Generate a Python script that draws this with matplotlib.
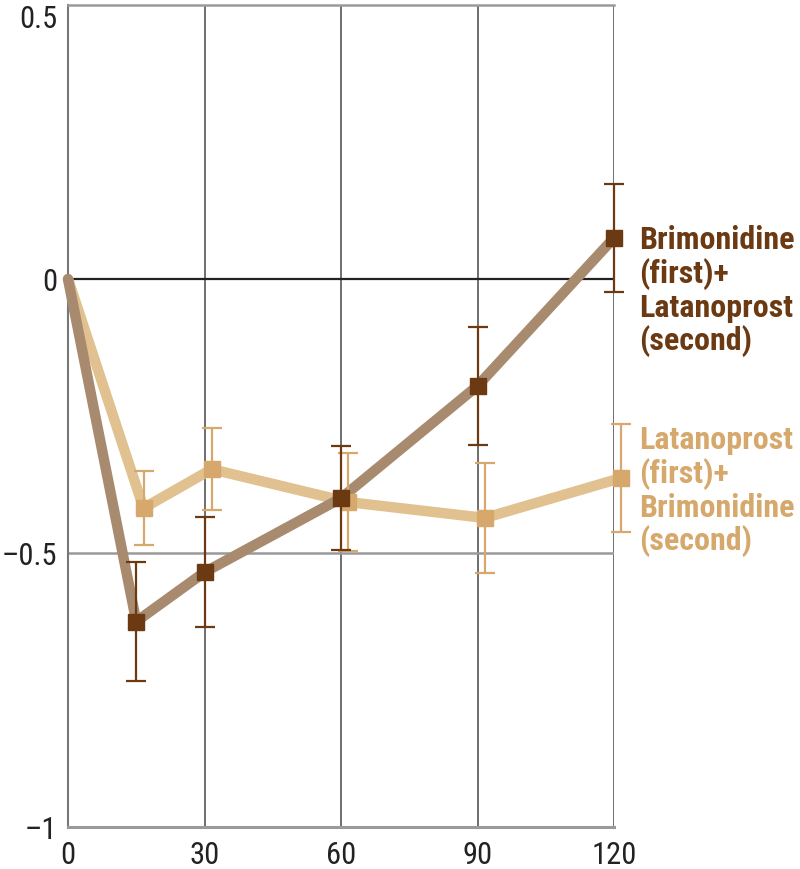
import matplotlib
matplotlib.use("Agg")
import matplotlib.pyplot as plt
import numpy as np

# ---- data ----
times = [0, 15, 30, 60, 90, 120]
brim_first = [0.0, -0.625, -0.535, -0.40, -0.195, 0.075]
brim_first_err = [0.0, 0.109, 0.10, 0.095, 0.108, 0.098]
lat_first = [0.0, -0.418, -0.347, -0.407, -0.436, -0.363]
lat_first_err = [0.0, 0.068, 0.075, 0.09, 0.10, 0.098]
label_brim = "Brimonidine\n(first)+\nLatanoprost\n(second)"
label_lat = "Latanoprost\n(first)+\nBrimonidine\n(second)"
xticks = [0, 30, 60, 90, 120]
yticks = [-1, -0.5, 0, 0.5]
ytick_labels = ["\u20131", "\u20130.5", "0", "0.5"]

# ---- style ----
dark_line = "#a88b6f"
dark_mark = "#6b3a12"
light_line = "#e0c18f"
light_mark = "#d6a86c"
narrow = ["Roboto Condensed", "DejaVu Sans"]

fig = plt.figure(figsize=(8, 8.69), dpi=100)
ax = fig.add_axes([0.085, 0.0483, 0.6825, 0.9459])
ax.set_xlim(0, 120)
ax.set_ylim(-1, 0.5)

# grid lines
for xv in [30, 60, 90, 120]:
    ax.axvline(xv, color="#555555", lw=1.2, zorder=1)
ax.axhline(0, color="#222222", lw=1.6, zorder=1)
ax.axhline(-0.5, color="#9a9a9a", lw=1.8, zorder=1)

ax.spines["right"].set_visible(False)
ax.spines["left"].set_color("#777777")
ax.spines["left"].set_linewidth(1.5)
ax.spines["top"].set_color("#9a9a9a")
ax.spines["top"].set_linewidth(1.8)
ax.spines["bottom"].set_color("#9a9a9a")
ax.spines["bottom"].set_linewidth(2.2)

t = np.array(times, dtype=float)
dodge = 1.6
tl = t.copy()
tl[1:] += dodge

# lines
ax.plot(tl, lat_first, color=light_line, lw=7.5, solid_capstyle="round",
        solid_joinstyle="round", zorder=2, clip_on=False)
ax.plot(t, brim_first, color=dark_line, lw=7.5, solid_capstyle="round",
        solid_joinstyle="round", zorder=3, clip_on=False)

# error bars and markers
ax.errorbar(tl[1:], lat_first[1:], yerr=lat_first_err[1:], fmt="s",
            color=light_mark, ms=11, ecolor=light_mark, elinewidth=1.6,
            capsize=7, capthick=1.6, zorder=4, clip_on=False)
ax.errorbar(t[1:], brim_first[1:], yerr=brim_first_err[1:], fmt="s",
            color=dark_mark, ms=11, ecolor=dark_mark, elinewidth=1.6,
            capsize=7, capthick=1.6, zorder=5, clip_on=False)

# labels
ax.text(125.6, -0.022, label_brim, color=dark_mark, fontsize=23,
        fontweight="bold", family=narrow, va="center", ha="left",
        linespacing=1.12, clip_on=False)
ax.text(125.6, -0.387, label_lat, color=light_mark, fontsize=23,
        fontweight="bold", family=narrow, va="center", ha="left",
        linespacing=1.12, clip_on=False)

ax.set_xticks(xticks)
ax.set_xticklabels([str(x) for x in xticks], family=narrow, fontsize=22,
                   color="#222222")
ax.set_yticks(yticks)
ax.set_yticklabels(ytick_labels, family=narrow, fontsize=22, color="#222222")
ax.tick_params(axis="both", length=0)
ax.tick_params(axis="x", pad=10)
ax.tick_params(axis="y", pad=8)
for lab in ax.get_yticklabels():
    if lab.get_text() == "0.5":
        lab.set_va("top")

fig.savefig("out.png", dpi=100, facecolor="white")
